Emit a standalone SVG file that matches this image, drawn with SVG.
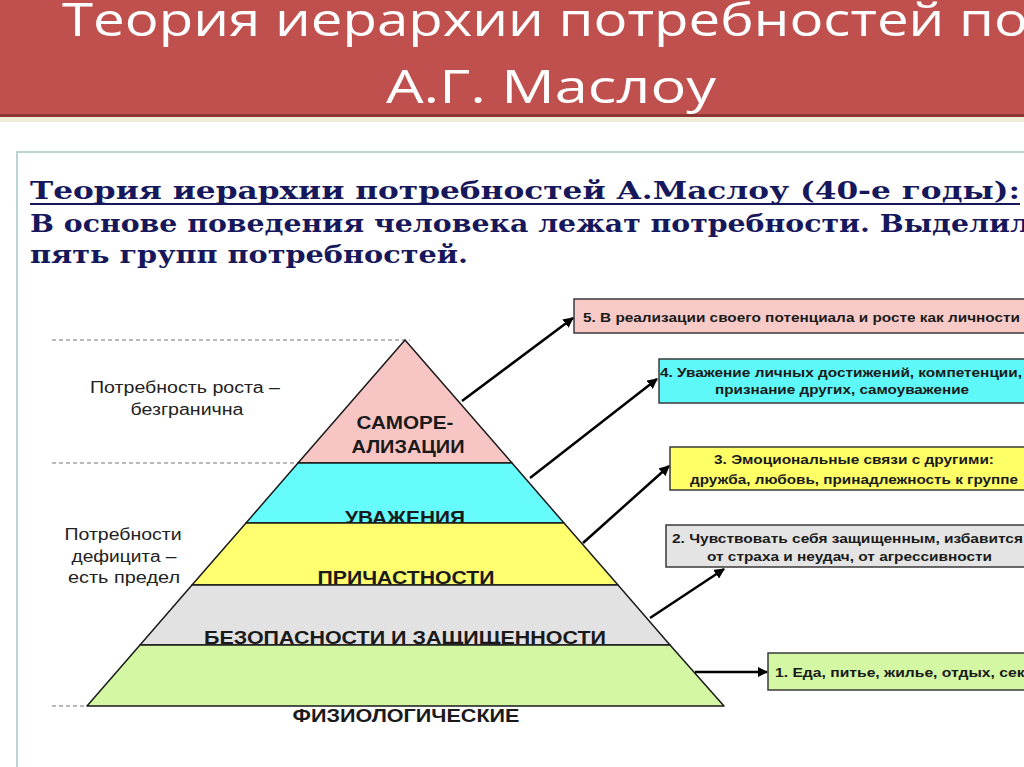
<svg xmlns="http://www.w3.org/2000/svg" width="1024" height="767" viewBox="0 0 1024 767">
<style>
.hdr{font-family:"Open Sans","Liberation Sans",sans-serif;font-size:45px;fill:#ffffff}
.ser{font-family:"DejaVu Serif","Liberation Serif",serif;font-weight:bold;font-size:24px;fill:#17175c}
.lvl{stroke:#1a1a1a;stroke-width:1.5;stroke-linejoin:round}
.pt{font-family:"Liberation Sans",Arial,sans-serif;font-weight:bold;font-size:19px;fill:#1a1a1a;text-anchor:middle}
.side{font-family:"Liberation Sans",Arial,sans-serif;font-size:16px;fill:#222222;text-anchor:middle}
.box{stroke:#3a3a3a;stroke-width:1.5}
.bt{font-family:"Liberation Sans",Arial,sans-serif;font-weight:bold;font-size:13px;fill:#1a1a1a}
.dash{stroke:#777777;stroke-width:1.2;stroke-dasharray:4 3;fill:none}
.arr{stroke:#000000;stroke-width:2.5;fill:none;marker-end:url(#ah)}
</style>
<defs>
<marker id="ah" viewBox="0 0 10 10" refX="9" refY="5" markerWidth="4.2" markerHeight="4.2" orient="auto" markerUnits="strokeWidth">
<path d="M0,0 L10,5 L0,10 z" fill="#000000"/>
</marker>
</defs>
<rect x="0" y="0" width="1024" height="767" fill="#ffffff"/>
<g id="header">
<rect x="0" y="117" width="1024" height="5" fill="#e8e6c8" opacity="0.7"/>
<rect x="0" y="0" width="1024" height="117" fill="#c0504d"/>
<rect x="0" y="114" width="1024" height="3" fill="#8c3634"/>
<text class="hdr" x="62" y="36" textLength="966" lengthAdjust="spacingAndGlyphs">Теория иерархии потребностей по</text>
<text class="hdr" x="386" y="103" textLength="330" lengthAdjust="spacingAndGlyphs">А.Г. Маслоу</text>
</g>
<g id="frame">
<path d="M17,767 L17,152 L1024,152" fill="none" stroke="#a3c9c9" stroke-width="1.5"/>
</g>
<g id="intro">
<text class="ser" x="30" y="199" textLength="990" lengthAdjust="spacingAndGlyphs">Теория иерархии потребностей А.Маслоу (40-е годы):</text>
<line x1="30" y1="204" x2="1020" y2="204" stroke="#17175c" stroke-width="2"/>
<text class="ser" x="30" y="232" textLength="1000" lengthAdjust="spacingAndGlyphs">В основе поведения человека лежат потребности. Выделил</text>
<text class="ser" x="30" y="263" textLength="438" lengthAdjust="spacingAndGlyphs">пять групп потребностей.</text>
</g>
<g id="guides">
<line class="dash" x1="52" y1="340" x2="410" y2="340"/>
<line class="dash" x1="52" y1="463" x2="298" y2="463"/>
<line class="dash" x1="52" y1="706" x2="88" y2="706"/>
</g>
<g id="side-growth">
<text class="side" x="185" y="393" textLength="190" lengthAdjust="spacingAndGlyphs">Потребность роста –</text>
<text class="side" x="187" y="415" textLength="113" lengthAdjust="spacingAndGlyphs">безгранична</text>
</g>
<g id="side-deficit">
<text class="side" x="123" y="540" textLength="117" lengthAdjust="spacingAndGlyphs">Потребности</text>
<text class="side" x="124" y="562" textLength="105" lengthAdjust="spacingAndGlyphs">дефицита –</text>
<text class="side" x="124" y="583" textLength="112" lengthAdjust="spacingAndGlyphs">есть предел</text>
</g>
<g id="level-5">
<polygon class="lvl" points="405,340 512,463 298,463" fill="#f7c6c4"/>
<text class="pt" x="405" y="429" textLength="97" lengthAdjust="spacingAndGlyphs">САМОРЕ-</text>
<text class="pt" x="408" y="453" textLength="113" lengthAdjust="spacingAndGlyphs">АЛИЗАЦИИ</text>
</g>
<g id="level-4">
<polygon class="lvl" points="298,463 512,463 564,523 246,523" fill="#66fcfc"/>
<text class="pt" x="405" y="524" textLength="120" lengthAdjust="spacingAndGlyphs">УВАЖЕНИЯ</text>
</g>
<g id="level-3">
<polygon class="lvl" points="246,523 564,523 618,585 192,585" fill="#ffff70"/>
<text class="pt" x="406" y="584" textLength="177" lengthAdjust="spacingAndGlyphs">ПРИЧАСТНОСТИ</text>
</g>
<g id="level-2">
<polygon class="lvl" points="192,585 618,585 670,645 140,645" fill="#e2e2e2"/>
<text class="pt" x="405" y="644" textLength="402" lengthAdjust="spacingAndGlyphs">БЕЗОПАСНОСТИ И ЗАЩИЩЕННОСТИ</text>
</g>
<g id="level-1">
<polygon class="lvl" points="140,645 670,645 724,706 87,706" fill="#d3f7a2"/>
<text class="pt" x="406" y="722" textLength="227" lengthAdjust="spacingAndGlyphs">ФИЗИОЛОГИЧЕСКИЕ</text>
</g>
<g id="box-5">
<rect class="box" x="574" y="299" width="460" height="34" fill="#f7cac7"/>
<text class="bt" x="583" y="322" textLength="437" lengthAdjust="spacingAndGlyphs">5. В реализации своего потенциала и росте как личности</text>
</g>
<g id="box-4">
<rect class="box" x="659" y="359" width="375" height="44" fill="#5ff8f8"/>
<text class="bt" x="660" y="377" textLength="362" lengthAdjust="spacingAndGlyphs">4. Уважение личных достижений, компетенции,</text>
<text class="bt" x="715" y="394" textLength="254" lengthAdjust="spacingAndGlyphs">признание других, самоуважение</text>
</g>
<g id="box-3">
<rect class="box" x="670" y="447" width="364" height="43" fill="#ffff66"/>
<text class="bt" x="714" y="464" textLength="280" lengthAdjust="spacingAndGlyphs">3. Эмоциональные связи с другими:</text>
<text class="bt" x="690" y="484" textLength="328" lengthAdjust="spacingAndGlyphs">дружба, любовь, принадлежность к группе</text>
</g>
<g id="box-2">
<rect class="box" x="666" y="525" width="368" height="42" fill="#e4e4e4"/>
<text class="bt" x="672" y="543" textLength="351" lengthAdjust="spacingAndGlyphs">2. Чувствовать себя защищенным, избавится</text>
<text class="bt" x="707" y="561" textLength="285" lengthAdjust="spacingAndGlyphs">от страха и неудач, от агрессивности</text>
</g>
<g id="box-1">
<rect class="box" x="768" y="653" width="266" height="37" fill="#d3f7a2"/>
<text class="bt" x="775" y="677" textLength="258" lengthAdjust="spacingAndGlyphs">1. Еда, питье, жилье, отдых, секс</text>
</g>
<g id="connectors">
<line class="arr" x1="462" y1="401" x2="573" y2="318"/>
<line class="arr" x1="530" y1="478" x2="657" y2="379"/>
<line class="arr" x1="583" y1="543" x2="669" y2="466"/>
<line class="arr" x1="650" y1="618" x2="724" y2="569"/>
<line class="arr" x1="695" y1="672" x2="767" y2="672"/>
</g>
</svg>
